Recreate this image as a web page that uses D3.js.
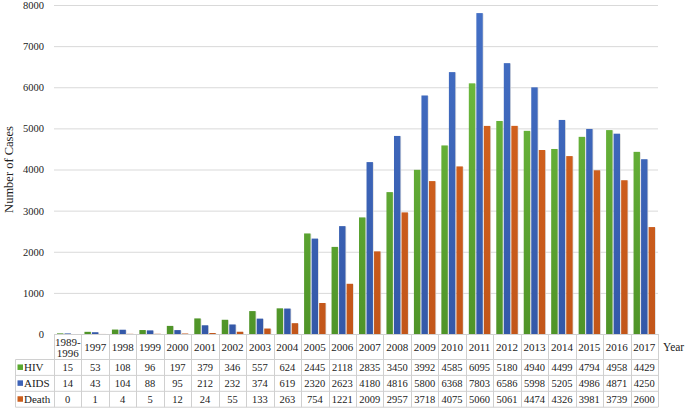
<!DOCTYPE html>
<html>
<head>
<meta charset="utf-8">
<script src="https://cdn.jsdelivr.net/npm/d3@7"></script>
<style>
  html, body { margin: 0; padding: 0; background: #fff; }
  svg { display: block; }
  text { font-family: "Liberation Serif", "Times New Roman", serif; fill: #222; }
</style>
</head>
<body>
<svg id="chart" width="685" height="409"></svg>
<script>
const categories = ["1989-1996","1997","1998","1999","2000","2001","2002","2003","2004","2005","2006","2007","2008","2009","2010","2011","2012","2013","2014","2015","2016","2017"];
const hiv   = [15,53,108,96,197,379,346,557,624,2445,2118,2835,3450,3992,4585,6095,5180,4940,4499,4794,4958,4429];
const aids  = [14,43,104,88,95,212,232,374,619,2320,2623,4180,4816,5800,6368,7803,6586,5998,5205,4986,4871,4250];
const death = [0,1,4,5,12,24,55,133,263,754,1221,2009,2957,3718,4075,5060,5061,4474,4326,3981,3739,2600];
const seriesNames = ["HIV","AIDS","Death"];
const yTicks = [0,1000,2000,3000,4000,5000,6000,7000,8000];

const series = [
  {name: seriesNames[0], values: hiv,   c1: "#74c343", c2: "#4f9428", key: "#5aa92f"},
  {name: seriesNames[1], values: aids,  c1: "#4470c6", c2: "#3458a8", key: "#3d63b8"},
  {name: seriesNames[2], values: death, c1: "#d9661f", c2: "#c2561a", key: "#cc5e1c"}
];

const svg = d3.select("#chart");
const plotLeft = 54, plotRight = 658, plotTop = 5, plotBase = 334;

const x = d3.scaleBand().domain(categories).range([plotLeft, plotRight]).paddingInner(0).paddingOuter(0);
const y = d3.scaleLinear().domain([0, 8000]).range([plotBase, plotTop]);
const xs = d3.scaleBand().domain(seriesNames).range([3, x.bandwidth() - 3]).paddingInner(0.15);

// gradients
const defs = svg.append("defs");
series.forEach((s, i) => {
  const g = defs.append("linearGradient").attr("id", "grad" + i)
    .attr("gradientUnits", "userSpaceOnUse")
    .attr("x1", 0).attr("y1", y(8000)).attr("x2", 0).attr("y2", y(0));
  g.append("stop").attr("offset", "0%").attr("stop-color", s.c1);
  g.append("stop").attr("offset", "100%").attr("stop-color", s.c2);
});

// gridlines
const yAxis = d3.axisLeft(y).tickValues(yTicks).tickSize(-(plotRight - plotLeft)).tickPadding(10).tickFormat(d3.format("d"));
const ga = svg.append("g").attr("transform", `translate(${plotLeft},0)`).call(yAxis);
ga.select(".domain").remove();
ga.selectAll(".tick line").attr("stroke", "#d9d9d9").attr("stroke-width", 1);
ga.selectAll(".tick text").attr("font-size", 10.5).attr("fill", "#222")
  .style("font-family", '"Liberation Serif", serif');

// y title
svg.append("text")
  .attr("transform", `translate(13,${(plotTop + plotBase) / 2}) rotate(-90)`)
  .attr("text-anchor", "middle")
  .attr("font-size", 12.5)
  .text("Number of Cases");

// bars
const groups = svg.append("g").selectAll("g").data(categories).join("g")
  .attr("transform", d => `translate(${x(d)},0)`);
series.forEach((s, i) => {
  groups.append("rect")
    .attr("x", (d) => xs(s.name) + 0.8)
    .attr("y", (d, j) => y(s.values[j]) + 0.5)
    .attr("width", xs.bandwidth())
    .attr("height", (d, j) => Math.max(0, plotBase - y(s.values[j])))
    .attr("fill", "#d4d4d4").attr("opacity", (d, j) => s.values[j] > 0 ? 0.8 : 0);
  groups.append("rect")
    .attr("x", (d) => xs(s.name))
    .attr("y", (d, j) => y(s.values[j]))
    .attr("width", xs.bandwidth())
    .attr("height", (d, j) => plotBase - y(s.values[j]))
    .attr("fill", `url(#grad${i})`);
});

// table
const tableColor = "#d0d0d0";
const headerBottom = 359.5;
const rowH = 15.9;
const labelLeft = 15.5;
const tg = svg.append("g");
tg.append("line").attr("x1", plotLeft).attr("x2", plotRight).attr("y1", plotBase + 0.5).attr("y2", plotBase + 0.5)
  .attr("stroke", tableColor);
const colEdges = categories.map(c => x(c)).concat([plotRight]);
tg.selectAll("line.col").data(colEdges).join("line")
  .attr("x1", d => Math.round(d) + 0.5).attr("x2", d => Math.round(d) + 0.5)
  .attr("y1", plotBase).attr("y2", headerBottom + 3 * rowH)
  .attr("stroke", tableColor);
tg.append("line").attr("x1", labelLeft).attr("x2", labelLeft)
  .attr("y1", headerBottom).attr("y2", headerBottom + 3 * rowH).attr("stroke", tableColor);
d3.range(4).forEach(r => {
  tg.append("line").attr("x1", labelLeft).attr("x2", plotRight)
    .attr("y1", headerBottom + r * rowH).attr("y2", headerBottom + r * rowH)
    .attr("stroke", tableColor);
});
categories.forEach(c => {
  const cx = x(c) + x.bandwidth() / 2;
  if (c.includes("-")) {
    const parts = c.split("-");
    tg.append("text").attr("x", cx).attr("y", 345.5).attr("text-anchor", "middle").attr("font-size", 11).text(parts[0] + "-");
    tg.append("text").attr("x", cx).attr("y", 357).attr("text-anchor", "middle").attr("font-size", 11).text(parts[1]);
  } else {
    tg.append("text").attr("x", cx).attr("y", 351).attr("text-anchor", "middle").attr("font-size", 11).text(c);
  }
});
svg.append("text").attr("x", 663).attr("y", 351).attr("font-size", 11.5).text("Year");
series.forEach((s, i) => {
  const ry = headerBottom + i * rowH;
  tg.append("rect").attr("x", 17.5).attr("y", ry + rowH / 2 - 3).attr("width", 5.5).attr("height", 5.5).attr("fill", s.key);
  tg.append("text").attr("x", 24).attr("y", ry + rowH / 2 + 3.8).attr("font-size", 11).text(s.name);
  categories.forEach((c, j) => {
    tg.append("text").attr("x", x(c) + x.bandwidth() / 2).attr("y", ry + rowH / 2 + 3.8)
      .attr("text-anchor", "middle").attr("font-size", 10.5).text(s.values[j]);
  });
});
</script>
</body>
</html>
